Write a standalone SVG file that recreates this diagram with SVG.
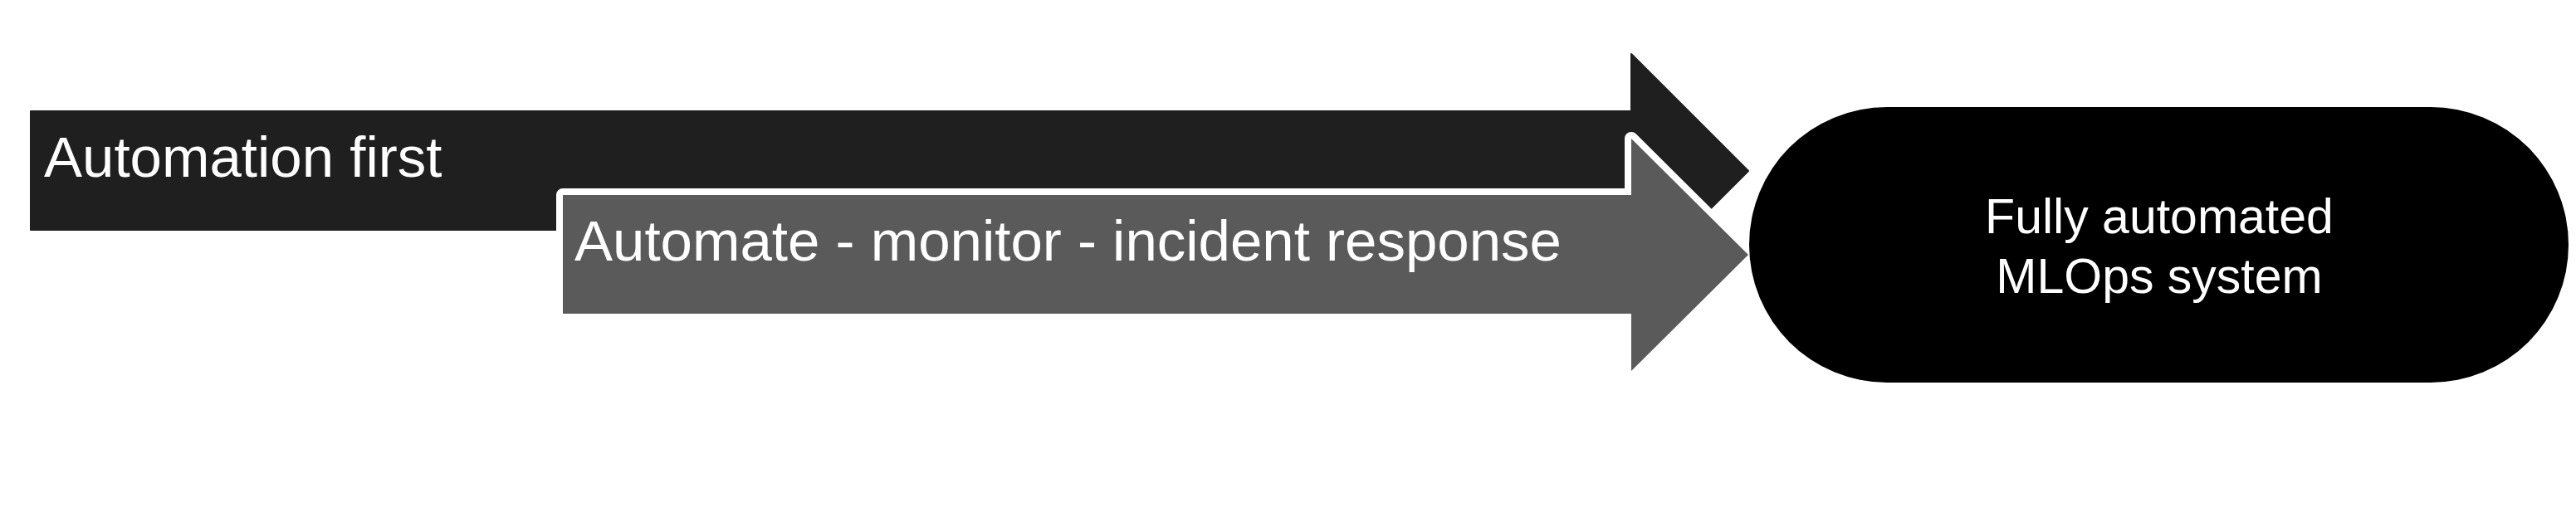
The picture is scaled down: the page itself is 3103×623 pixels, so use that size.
<svg xmlns="http://www.w3.org/2000/svg" width="3103" height="623" viewBox="0 0 3103 623">
<style>
.lbl{font-family:"Liberation Sans",Arial,sans-serif;fill:#ffffff}
.big{font-size:69px}
.node{font-size:59px}
</style>
<rect width="3103" height="623" fill="#ffffff"/>
<g id="connectors">
<g id="arrow-automation-first">
<polygon points="37,134 1965,134 1965,65 2106,206 1965,347 1965,277 37,277" fill="#1f1f1f" stroke="#1f1f1f" stroke-width="2" stroke-linejoin="round"/>
<text class="lbl big" x="53" y="213">Automation first</text>
</g>
<g id="arrow-automate-monitor">
<polygon points="678,235 1965,235 1965,167 2106,307 1965,447 1965,378 678,378" fill="#5a5a5a" stroke="#ffffff" stroke-width="16" stroke-linejoin="round" paint-order="stroke"/>
<text class="lbl big" x="692" y="314">Automate - monitor - incident response</text>
</g>
</g>
<g id="node-mlops">
<rect x="2107" y="129" width="987" height="332" rx="166" ry="166" fill="#000000"/>
<text class="lbl node" text-anchor="middle" x="2601" y="281">Fully automated</text>
<text class="lbl node" text-anchor="middle" x="2601" y="353">MLOps system</text>
</g>
</svg>
